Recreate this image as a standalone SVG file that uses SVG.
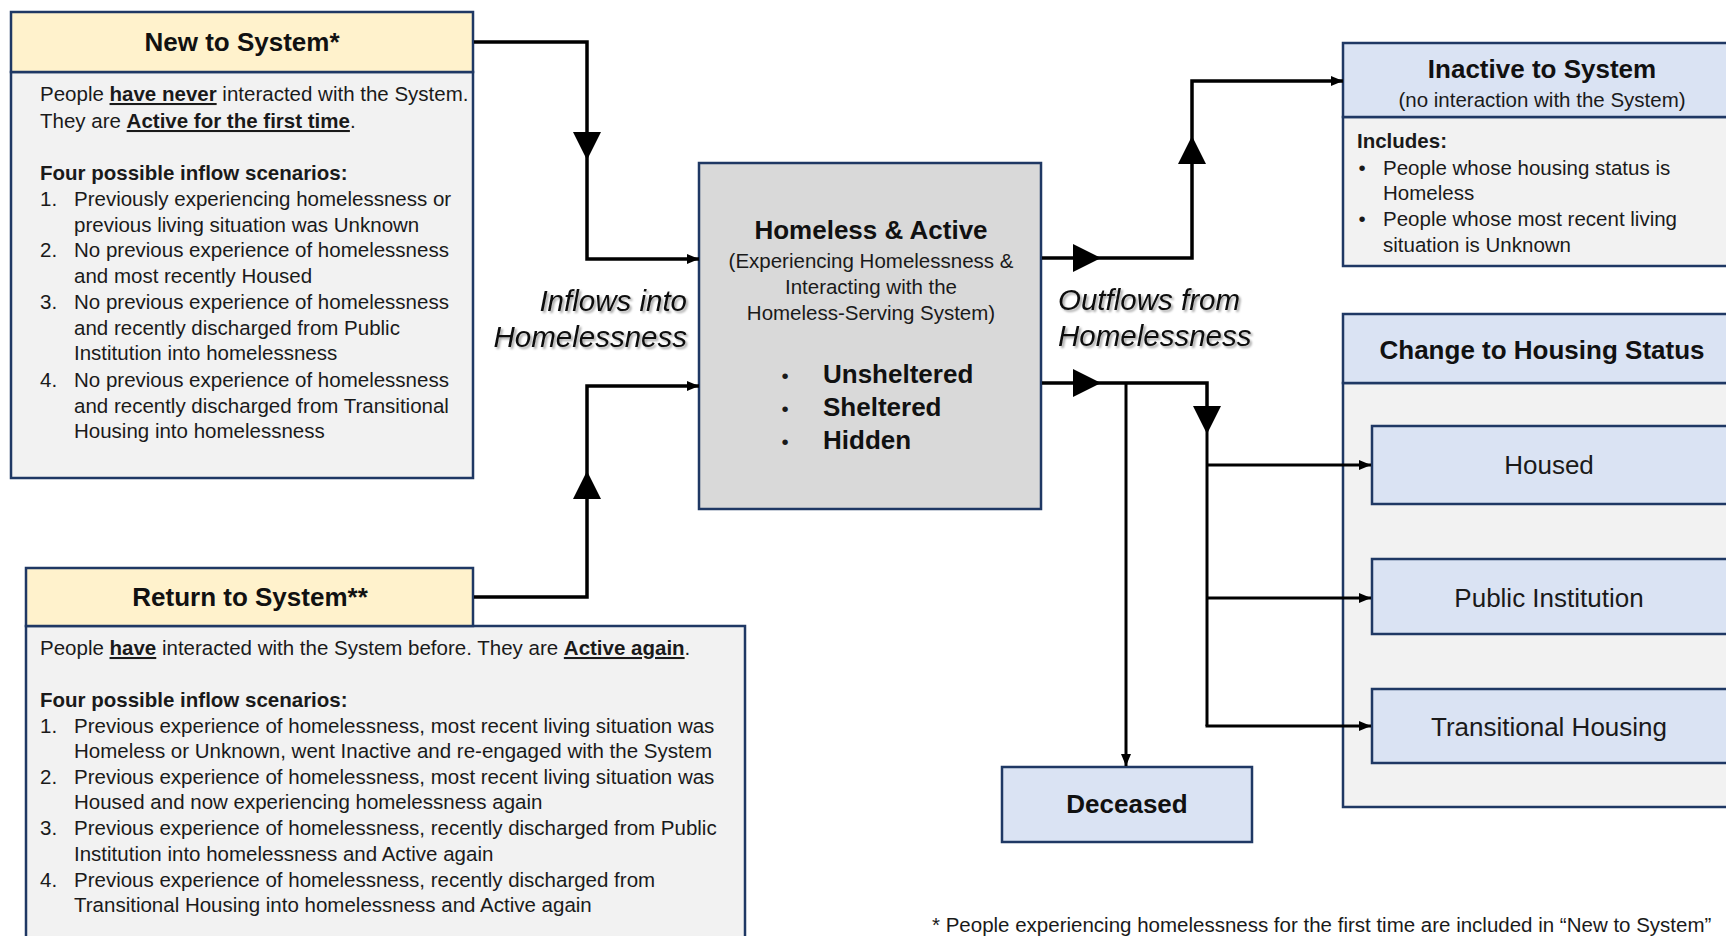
<svg xmlns="http://www.w3.org/2000/svg" width="1726" height="936" viewBox="0 0 1726 936">
<style>
text{font-family:"Liberation Sans",Arial,sans-serif;fill:#1a1a1a}
.t{font-size:20.5px}
.b{font-weight:bold}
.h{font-size:26px;font-weight:bold;text-anchor:middle;fill:#111}
.c{text-anchor:middle}
.lbl{font-size:29.5px;font-style:italic;fill:#111}
.yel{fill:#fff2cc;stroke:#1f3864;stroke-width:2.5}
.blu{fill:#dae3f3;stroke:#1f3864;stroke-width:2.5}
.gry{fill:#f2f2f2;stroke:#1f3864;stroke-width:2.5}
.dg{fill:#d9d9d9;stroke:#1f3864;stroke-width:2.5}
.ln{fill:none;stroke:#000;stroke-width:3.5}
.br{fill:none;stroke:#000;stroke-width:3}
.tri{fill:#000}
.u{text-decoration:underline;font-weight:bold}
</style>
<defs>
<marker id="arr" viewBox="0 0 12 10" refX="12" refY="5" markerWidth="12" markerHeight="10" markerUnits="userSpaceOnUse" orient="auto"><path d="M0,0 L12,5 L0,10 z" fill="#000"/></marker>
<filter id="sh" x="-10%" y="-20%" width="120%" height="150%"><feDropShadow dx="2" dy="2" stdDeviation="1.2" flood-color="#000" flood-opacity="0.35"/></filter>
</defs>
<rect width="1726" height="936" fill="#fff"/>

<g id="new-to-system">
<rect class="gry" x="11" y="72" width="462" height="406"/>
<rect class="yel" x="11" y="12" width="462" height="60"/>
<text class="h" x="242" y="51">New to System*</text>
<text class="t" x="40" y="101">People <tspan class="u">have never</tspan> interacted with the System.</text>
<text class="t" x="40" y="128">They are <tspan class="u">Active for the first time</tspan>.</text>
<text class="t b" x="40" y="180">Four possible inflow scenarios:</text>
<text class="t" x="40" y="206">1.</text><text class="t" x="74" y="206">Previously experiencing homelessness or</text>
<text class="t" x="74" y="232">previous living situation was Unknown</text>
<text class="t" x="40" y="257">2.</text><text class="t" x="74" y="257">No previous experience of homelessness</text>
<text class="t" x="74" y="283">and most recently Housed</text>
<text class="t" x="40" y="309">3.</text><text class="t" x="74" y="309">No previous experience of homelessness</text>
<text class="t" x="74" y="335">and recently discharged from Public</text>
<text class="t" x="74" y="360">Institution into homelessness</text>
<text class="t" x="40" y="387">4.</text><text class="t" x="74" y="387">No previous experience of homelessness</text>
<text class="t" x="74" y="413">and recently discharged from Transitional</text>
<text class="t" x="74" y="438">Housing into homelessness</text>
</g>

<g id="return-to-system">
<rect class="gry" x="26" y="626" width="719" height="320"/>
<rect class="yel" x="26" y="568" width="447" height="58"/>
<text class="h" x="250" y="606">Return to System**</text>
<text class="t" x="40" y="655">People <tspan class="u">have</tspan> interacted with the System before. They are <tspan class="u">Active again</tspan>.</text>
<text class="t b" x="40" y="707">Four possible inflow scenarios:</text>
<text class="t" x="40" y="733">1.</text><text class="t" x="74" y="733">Previous experience of homelessness, most recent living situation was</text>
<text class="t" x="74" y="758">Homeless or Unknown, went Inactive and re-engaged with the System</text>
<text class="t" x="40" y="784">2.</text><text class="t" x="74" y="784">Previous experience of homelessness, most recent living situation was</text>
<text class="t" x="74" y="809">Housed and now experiencing homelessness again</text>
<text class="t" x="40" y="835">3.</text><text class="t" x="74" y="835">Previous experience of homelessness, recently discharged from Public</text>
<text class="t" x="74" y="861">Institution into homelessness and Active again</text>
<text class="t" x="40" y="887">4.</text><text class="t" x="74" y="887">Previous experience of homelessness, recently discharged from</text>
<text class="t" x="74" y="912">Transitional Housing into homelessness and Active again</text>
</g>

<g id="homeless-active">
<rect class="dg" x="699" y="163" width="342" height="346"/>
<text class="h" x="871" y="239">Homeless &amp; Active</text>
<text class="t c" x="871" y="268">(Experiencing Homelessness &amp;</text>
<text class="t c" x="871" y="294">Interacting with the</text>
<text class="t c" x="871" y="320">Homeless-Serving System)</text>
<text class="t c" x="785" y="383">•</text><text class="h" x="823" y="383" style="text-anchor:start">Unsheltered</text>
<text class="t c" x="785" y="416">•</text><text class="h" x="823" y="416" style="text-anchor:start">Sheltered</text>
<text class="t c" x="785" y="449">•</text><text class="h" x="823" y="449" style="text-anchor:start">Hidden</text>
</g>

<g id="flow-labels" filter="url(#sh)">
<text class="lbl" x="687" y="311" text-anchor="end">Inflows into</text>
<text class="lbl" x="687" y="347" text-anchor="end">Homelessness</text>
<text class="lbl" x="1058" y="310">Outflows from</text>
<text class="lbl" x="1058" y="346">Homelessness</text>
</g>

<g id="inactive-to-system">
<rect class="gry" x="1343" y="117" width="400" height="149"/>
<rect class="blu" x="1343" y="43" width="400" height="74"/>
<text class="h" x="1542" y="78">Inactive to System</text>
<text class="t c" x="1542" y="107">(no interaction with the System)</text>
<text class="t b" x="1357" y="148">Includes:</text>
<text class="t c" x="1362" y="175">•</text><text class="t" x="1383" y="175">People whose housing status is</text>
<text class="t" x="1383" y="200">Homeless</text>
<text class="t c" x="1362" y="226">•</text><text class="t" x="1383" y="226">People whose most recent living</text>
<text class="t" x="1383" y="252">situation is Unknown</text>
</g>

<g id="change-to-housing-status">
<rect class="gry" x="1343" y="383" width="400" height="424"/>
<rect class="blu" x="1343" y="314" width="400" height="69"/>
<text class="h" x="1542" y="359">Change to Housing Status</text>
</g>
<g id="housed">
<rect class="blu" x="1372" y="426" width="370" height="78"/>
<text class="c" x="1549" y="474" style="font-size:26px">Housed</text>
</g>
<g id="public-institution">
<rect class="blu" x="1372" y="559" width="370" height="75"/>
<text class="c" x="1549" y="607" style="font-size:26px">Public Institution</text>
</g>
<g id="transitional-housing">
<rect class="blu" x="1372" y="689" width="370" height="74"/>
<text class="c" x="1549" y="736" style="font-size:26px">Transitional Housing</text>
</g>

<g id="deceased">
<rect class="blu" x="1002" y="767" width="250" height="75"/>
<text class="h" x="1127" y="813">Deceased</text>
</g>

<g id="connectors">
<path class="ln" d="M474,42 H587 V259 H699" marker-end="url(#arr)"/>
<polygon class="tri" points="573,132 601,132 587,160"/>
<path class="ln" d="M474,597 H587 V386 H699" marker-end="url(#arr)"/>
<polygon class="tri" points="573,499 601,499 587,471"/>
<path class="ln" d="M1042,258 H1192 V81 H1343" marker-end="url(#arr)"/>
<polygon class="tri" points="1073,244 1073,272 1101,258"/>
<polygon class="tri" points="1178,164 1206,164 1192,136"/>
<path class="ln" d="M1042,383 H1207 V406"/>
<path class="br" d="M1207,430 V726"/>
<polygon class="tri" points="1073,369 1073,397 1101,383"/>
<polygon class="tri" points="1193,406 1221,406 1207,434"/>
<path class="br" d="M1207,465 H1371" marker-end="url(#arr)"/>
<path class="br" d="M1207,598 H1371" marker-end="url(#arr)"/>
<path class="br" d="M1205.5,726 H1371" marker-end="url(#arr)"/>
<path class="br" d="M1126,383 V766" marker-end="url(#arr)"/>
</g>

<g id="footnote">
<text class="t" x="932" y="932">* People experiencing homelessness for the first time are included in “New to System”</text>
</g>
</svg>
